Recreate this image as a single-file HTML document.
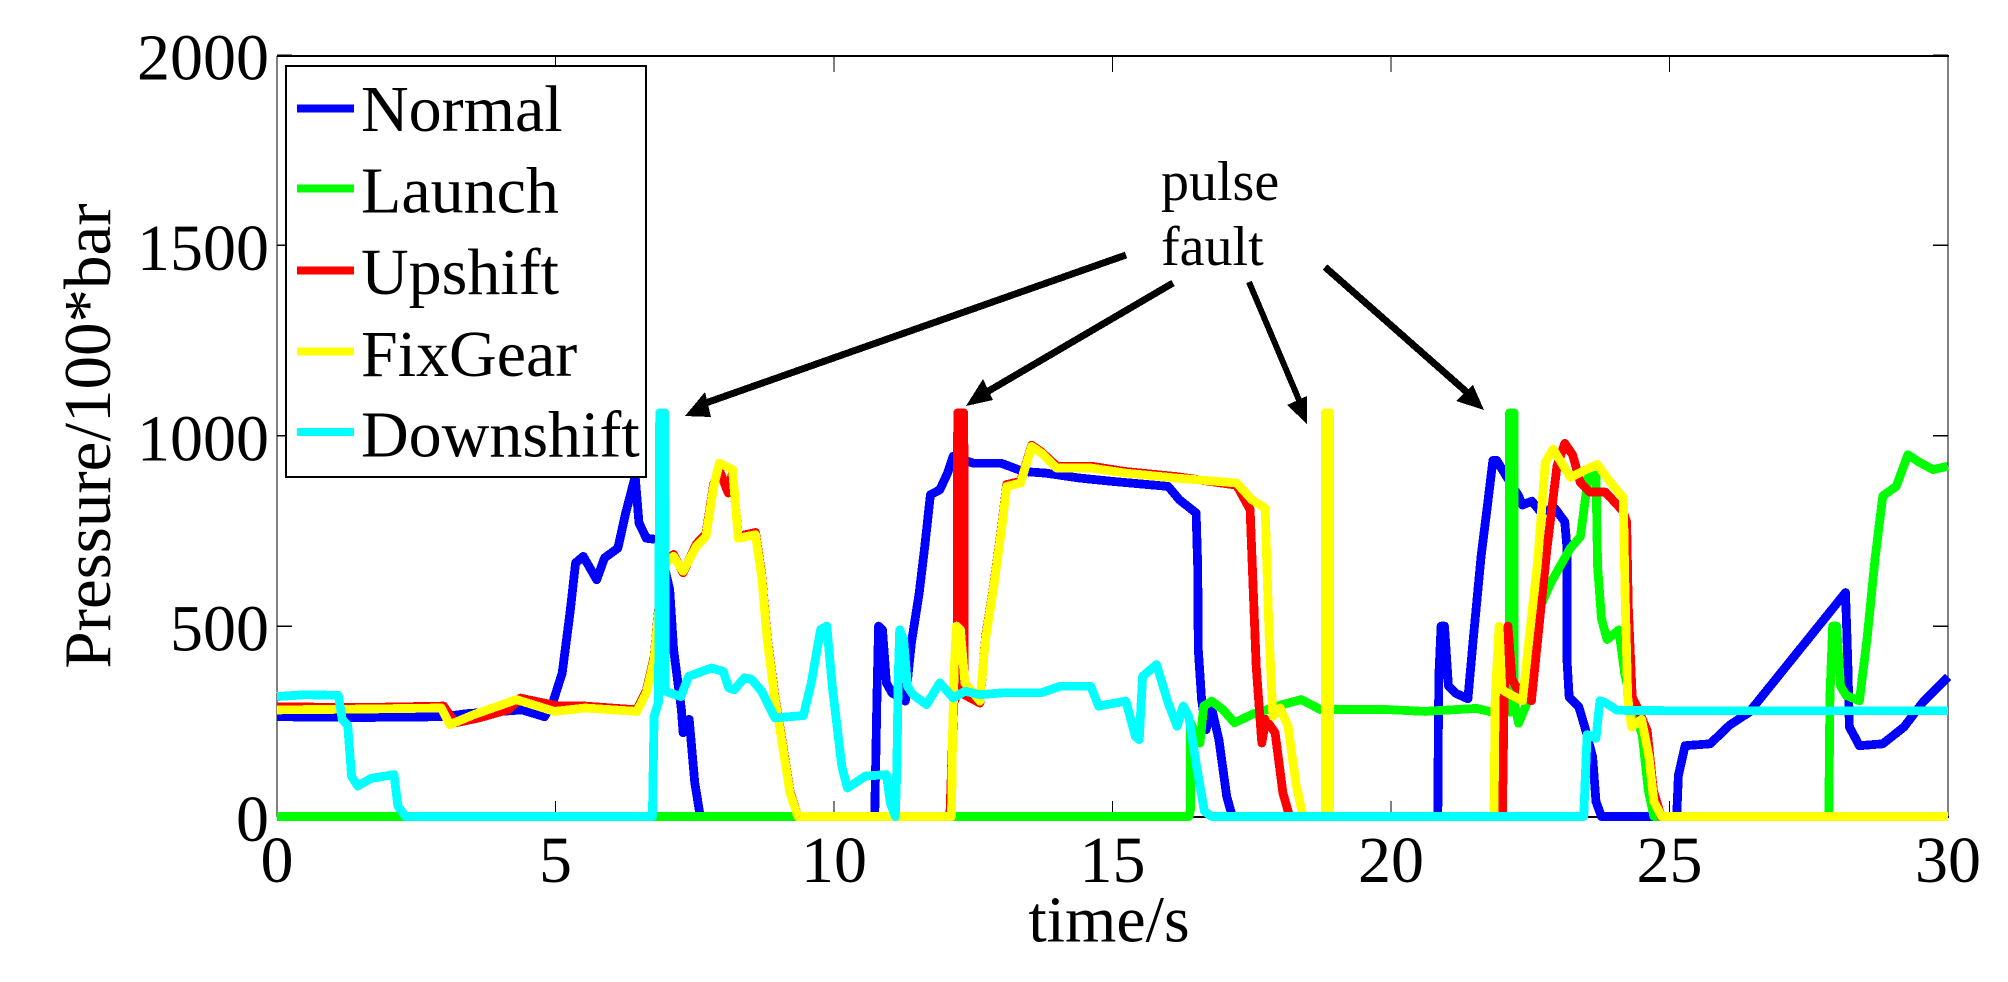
<!DOCTYPE html>
<html lang="en">
<head>
<meta charset="utf-8">
<title>Pressure vs time</title>
<style>
html,body{margin:0;padding:0;background:#fff;width:2008px;height:982px;overflow:hidden}
svg{display:block}
text{font-family:"Liberation Serif",serif;fill:#000}
line,polyline,polygon,rect{shape-rendering:crispEdges}
</style>
</head>
<body>
<svg id="chart" xmlns="http://www.w3.org/2000/svg" width="2008" height="982" viewBox="0 0 2008 982">
  <rect x="0" y="0" width="2008" height="982" fill="#fff"/>
  <g id="axes"></g>
  <g id="series"></g>
  <g>
    <rect x="286" y="66" width="360" height="411" fill="#fff" stroke="#000" stroke-width="1.6"/>
    <g id="legend-entries"></g>
  </g>
  <text transform="translate(110,436) rotate(-90)" font-size="67" text-anchor="middle">Pressure/100*bar</text>
  <text x="1109" y="941.5" font-size="66" text-anchor="middle">time/s</text>
  <g>
    <text x="1161" y="200" font-size="56">pulse</text>
    <text x="1161" y="265" font-size="56">fault</text>
    <g>
      <line x1="1126" y1="255" x2="700" y2="405" stroke="#000" stroke-width="7"/>
      <polygon points="685,416 705,392 711,417" fill="#000"/>
    </g>
    <g>
      <line x1="1173" y1="283" x2="980" y2="396" stroke="#000" stroke-width="7"/>
      <polygon points="966,406 983,379 993,400" fill="#000"/>
    </g>
    <g>
      <line x1="1249" y1="282" x2="1299" y2="400" stroke="#000" stroke-width="6"/>
      <polygon points="1307,424 1287,405 1307,396" fill="#000"/>
    </g>
    <g>
      <line x1="1325" y1="267" x2="1470" y2="395" stroke="#000" stroke-width="7"/>
      <polygon points="1484,410 1473,385 1456,401" fill="#000"/>
    </g>
  </g>
</svg>
<script>
var xTicks = [0, 5, 10, 15, 20, 25, 30];
var yTicks = [0, 500, 1000, 1500, 2000];
var seriesNames = ['Normal', 'Launch', 'Upshift', 'FixGear', 'Downshift'];
var seriesColors = ['#0000ff', '#00ff00', '#ff0000', '#ffff00', '#00ffff'];

var normalT = [0,1.5,3.0,3.4,4.4,4.8,4.95,5.12,5.26,5.36,5.5,5.74,5.88,6.12,6.26,6.43,6.5,6.63,6.84,7.05,7.12,7.26,7.29,7.4,7.5,7.6,8.5,10.73,10.77,10.8,10.87,10.94,11.04,11.28,11.39,11.53,11.63,11.73,11.9,12.04,12.14,12.5,13.0,13.4,13.8,14.4,15.0,16.0,16.2,16.5,16.53,16.54,16.6,16.68,16.78,16.91,17.05,17.15,19,20.84,20.85,20.86,20.9,20.96,21.03,21.17,21.38,21.48,21.62,21.72,21.83,21.9,22.04,22.29,22.36,22.53,22.67,22.95,23.12,23.16,23.16,23.2,23.37,23.48,23.62,23.68,23.78,24.62,25.13,25.16,25.28,25.73,26.08,26.43,28.16,28.2,28.23,28.41,28.83,29.21,29.57,30];
var normalV = [262,260,262,270,280,262,298,377,535,666,683,622,679,705,797,893,771,731,727,596,438,281,220,255,88,0,0,0,307,500,490,351,325,303,456,587,710,845,858,902,946,928,928,906,902,889,880,867,832,797,657,438,307,228,285,202,53,0,0,0,215,372,500,500,343,323,309,470,686,803,935,935,901,842,818,828,803,808,774,705,411,313,289,235,157,39,0,0,0,108,186,191,240,274,588,411,235,186,191,235,304,367];

var launchT = [0,16.37,16.4,16.4,16.57,16.64,16.78,16.98,17.19,17.5,18.05,18.39,18.73,19.9,20.6,21.54,21.82,22.03,22.13,22.13,22.21,22.21,22.29,22.43,22.57,22.67,22.88,23.22,23.4,23.54,23.68,23.71,23.78,23.88,24.09,24.2,24.34,24.51,24.62,24.72,27.86,27.88,27.93,28.0,28.07,28.17,28.41,28.55,28.69,28.83,29.07,29.28,29.49,29.73,30];
var launchV = [0,0,18,246,193,290,303,281,246,268,294,307,281,281,276,284,274,274,274,1060,1060,300,245,294,470,548,617,705,735,891,896,656,519,465,490,372,284,215,69,0,0,313,500,500,343,318,304,470,676,842,867,950,930,911,920];

var upshiftT = [0,1.5,2.99,3.2,3.6,4.16,4.37,5.05,5.53,6.46,6.63,6.77,6.84,6.98,7.12,7.29,7.53,7.7,7.84,7.94,8.1,8.18,8.28,8.59,8.7,8.8,8.94,9.04,9.21,9.35,12.08,12.15,12.21,12.22,12.33,12.34,12.62,12.72,12.86,13.0,13.1,13.35,13.55,13.72,14.0,14.62,15.23,16.13,17.23,17.47,17.51,17.58,17.68,17.75,17.92,18.06,18.18,20,22.0,22.03,22.1,22.17,22.31,22.52,22.63,22.8,22.98,23.12,23.26,23.4,23.57,23.85,24.16,24.23,24.26,24.33,24.43,24.6,24.71,24.85,30];
var upshiftV = [288,286,290,246,258,281,311,290,290,280,330,418,532,672,688,640,716,742,873,910,850,905,736,746,637,470,312,225,66,0,0,300,320,1060,1060,320,298,470,600,750,872,880,975,958,920,920,906,893,870,806,657,395,193,255,220,62,0,0,0,313,500,362,323,304,460,705,920,980,950,877,852,852,803,774,548,313,284,225,69,0,0];

var fixGearT = [0,1.5,2.95,3.1,3.54,4.3,4.98,5.53,6.46,6.63,6.77,6.84,6.98,7.12,7.29,7.53,7.7,7.84,7.94,8.18,8.28,8.59,8.7,8.8,8.94,9.04,9.21,9.35,12.11,12.13,12.16,12.2,12.27,12.35,12.62,12.72,12.86,13.0,13.1,13.35,13.55,13.72,14.0,14.62,15.23,16.13,17.23,17.5,17.74,17.81,17.88,18.01,18.15,18.29,18.42,18.82,18.82,18.9,18.9,21.85,21.87,21.94,21.99,22.11,22.36,22.46,22.63,22.77,22.91,23.22,23.7,23.97,24.17,24.2,24.25,24.32,24.5,24.63,24.72,24.86,30];
var fixGearV = [280,282,285,241,268,307,276,285,276,325,412,526,666,683,644,710,736,867,928,911,731,740,631,465,307,220,62,0,0,220,395,500,491,351,303,465,596,745,867,876,972,955,915,915,902,889,876,832,810,482,263,285,237,88,0,0,1060,1060,0,0,313,500,333,323,304,441,666,930,965,891,925,872,837,607,313,235,255,157,39,0,0];

var downshiftT = [0,0.5,1.1,1.17,1.27,1.34,1.45,1.69,2.1,2.17,2.31,4.5,6.74,6.77,6.85,6.87,6.96,6.97,7.05,7.25,7.39,7.8,8.01,8.11,8.21,8.39,8.52,8.7,8.94,9.45,9.59,9.76,9.87,9.97,10.14,10.24,10.47,10.56,10.94,11.01,11.1,11.13,11.15,11.18,11.25,11.32,11.42,11.66,11.9,12.14,12.35,12.62,13.03,13.72,14.06,14.61,14.75,15.24,15.41,15.48,15.54,15.79,16.0,16.16,16.27,16.37,16.51,16.65,16.78,20,23.46,23.52,23.68,23.75,23.85,24.06,25,26.5,28,30];
var downshiftV = [315,320,318,255,240,105,80,100,110,27,0,0,0,263,300,1060,1060,330,325,315,368,390,381,338,333,364,360,329,259,265,350,491,500,342,132,75,97,106,110,36,0,132,350,490,465,342,320,294,351,311,329,320,325,325,342,342,290,303,211,202,368,399,298,237,290,263,132,14,0,0,0,215,206,304,299,279,278,278,278,278];

var seriesTimes = [normalT, launchT, upshiftT, fixGearT, downshiftT];
var seriesValues = [normalV, launchV, upshiftV, fixGearV, downshiftV];

var NS = 'http://www.w3.org/2000/svg';
var LEFT = 277, RIGHT = 1948, BOTTOM = 816.5, TOP = 55;
function xScale(t) { return LEFT + (t / 30) * (RIGHT - LEFT); }
function yScale(v) { return BOTTOM - (v / 2000) * (BOTTOM - TOP); }
function make(tag, attrs) {
  var el = document.createElementNS(NS, tag);
  for (var k in attrs) { el.setAttribute(k, attrs[k]); }
  return el;
}

var axes = document.getElementById('axes');
var frameLines = [
  ['axis-top', LEFT, 56, RIGHT + 1, 56, 2.4],
  ['axis-bottom', LEFT, 817, RIGHT + 1, 817, 2],
  ['axis-left', LEFT, 56, LEFT, 817, 1.4],
  ['axis-right', RIGHT, 56, RIGHT, 817, 1.4]
];
frameLines.forEach(function (f) {
  var ln = make('line', { x1: f[1], y1: f[2], x2: f[3], y2: f[4], stroke: '#000', 'stroke-width': f[5] });
  
  
  axes.appendChild(ln);
});

xTicks.forEach(function (t) {
  var x = xScale(t);
  var lo = make('line', { x1: x, y1: 817, x2: x, y2: 801, stroke: '#000', 'stroke-width': 1.4 });
  
  
  axes.appendChild(lo);
  var hi = make('line', { x1: x, y1: 56, x2: x, y2: 72, stroke: '#000', 'stroke-width': 1.4 });
  
  
  axes.appendChild(hi);
  var lab = make('text', { x: x, y: 882, 'font-size': 66, 'text-anchor': 'middle' });
  
  
  lab.textContent = String(t);
  axes.appendChild(lab);
});

yTicks.forEach(function (v) {
  var y = yScale(v);
  var le = make('line', { x1: LEFT, y1: y, x2: LEFT + 15, y2: y, stroke: '#000', 'stroke-width': 1.4 });
  
  
  axes.appendChild(le);
  var ri = make('line', { x1: RIGHT, y1: y, x2: RIGHT - 15, y2: y, stroke: '#000', 'stroke-width': 1.4 });
  
  
  axes.appendChild(ri);
  var lab = make('text', { x: 269, y: y + 24.5, 'font-size': 66, 'text-anchor': 'end' });
  
  
  lab.textContent = String(v);
  axes.appendChild(lab);
});

var seriesGroup = document.getElementById('series');
seriesNames.forEach(function (name, i) {
  var ts = seriesTimes[i], vs = seriesValues[i], pts = [];
  for (var j = 0; j < ts.length; j++) {
    pts.push(xScale(ts[j]).toFixed(1) + ',' + yScale(vs[j]).toFixed(1));
  }
  var pl = make('polyline', {
    points: pts.join(' '), fill: 'none', stroke: seriesColors[i],
    'stroke-width': 8.8, 'stroke-linejoin': 'round', 'stroke-linecap': 'butt'
  });
  
  
  seriesGroup.appendChild(pl);
});

var legendEntries = document.getElementById('legend-entries');
var legendLineY = [108.7, 188.7, 270.7, 351.7, 432];
var legendTextY = [131, 212.7, 294, 376, 456.7];
seriesNames.forEach(function (name, i) {
  var sw = make('line', { x1: 297, y1: legendLineY[i], x2: 354, y2: legendLineY[i], stroke: seriesColors[i], 'stroke-width': 8 });
  
  
  legendEntries.appendChild(sw);
  var tx = make('text', { x: 361, y: legendTextY[i], 'font-size': 66 });
  
  
  tx.textContent = name;
  legendEntries.appendChild(tx);
});
</script>
</body>
</html>
